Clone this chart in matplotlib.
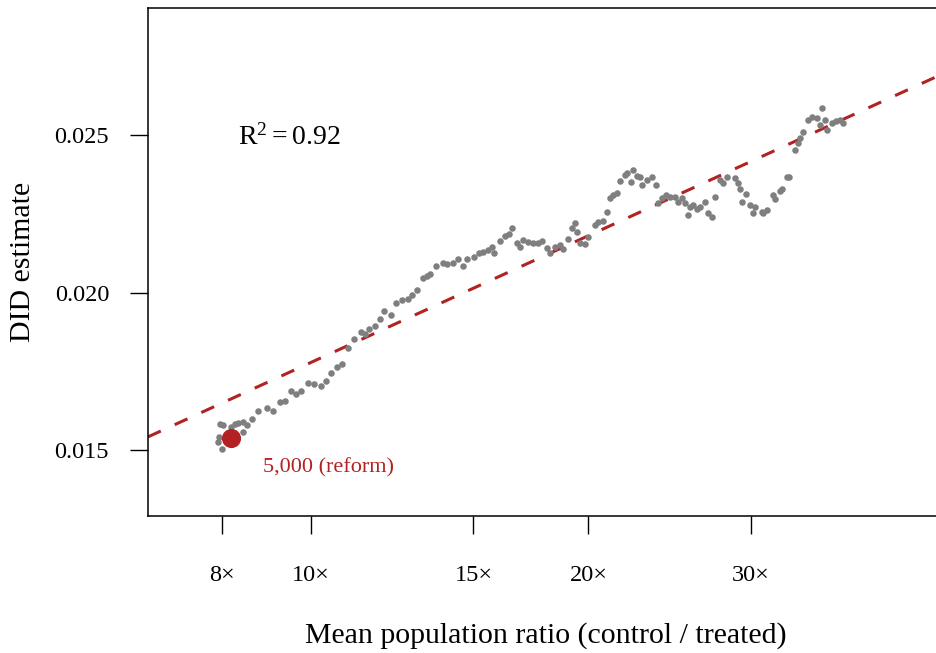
import numpy as np
import matplotlib
matplotlib.use('Agg')
import matplotlib.pyplot as plt

plt.rcParams['font.family'] = ['Liberation Serif', 'DejaVu Serif']
plt.rcParams['mathtext.fontset'] = 'custom'
plt.rcParams['mathtext.rm'] = 'Liberation Serif'
plt.rcParams['mathtext.it'] = 'Liberation Serif'

# mean population ratio (control / treated) for each cutoff
ratio = [7.92, 7.94, 7.96, 8.00, 8.02, 8.18, 8.26, 8.33, 8.43, 8.43,
         8.52, 8.62, 8.75, 8.95, 9.09, 9.25, 9.36, 9.51, 9.63, 9.75,
         9.92, 10.07, 10.25, 10.38, 10.51, 10.66, 10.80, 10.96, 11.13, 11.32,
         11.44, 11.55, 11.73, 11.87, 11.99, 12.21, 12.36, 12.55, 12.74, 12.86,
         13.03, 13.22, 13.36, 13.46, 13.66, 13.90, 14.04, 14.25, 14.43, 14.61,
         14.76, 15.02, 15.21, 15.36, 15.56, 15.71, 15.79, 16.03, 16.23, 16.39,
         16.52, 16.73, 16.85, 16.98, 17.19, 17.41, 17.63, 17.80, 18.03, 18.16,
         18.39, 18.62, 18.76, 19.00, 19.19, 19.34, 19.43, 19.58, 19.82, 19.97,
         20.33, 20.48, 20.74, 20.95, 21.10, 21.26, 21.48, 21.64, 21.91, 22.02,
         22.24, 22.35, 22.58, 22.75, 22.86, 23.15, 23.44, 23.68, 23.79, 24.03,
         24.28, 24.52, 24.83, 25.01, 25.27, 25.46, 25.65, 25.78, 25.97, 26.23,
         26.43, 26.76, 26.96, 27.23, 27.44, 27.78, 27.99, 28.28, 28.85, 29.06,
         29.21, 29.35, 29.65, 29.95, 30.17, 30.32, 30.86, 30.94, 31.25, 31.72,
         31.88, 32.28, 32.44, 32.85, 33.01, 33.51, 33.77, 33.94, 34.19, 34.62,
         34.97, 35.41, 35.68, 35.85, 36.12, 36.31, 36.76, 37.13, 37.50, 37.79]

did = [0.01525, 0.01541, 0.01583, 0.01503, 0.01579, 0.01573, 0.01583, 0.01586, 0.01589, 0.01557,
       0.01579, 0.01598, 0.01624, 0.01633, 0.01624, 0.01652, 0.01656, 0.01687, 0.01678, 0.01687,
       0.01713, 0.01710, 0.01703, 0.01719, 0.01744, 0.01763, 0.01773, 0.01824, 0.01852, 0.01875,
       0.01868, 0.01884, 0.01894, 0.01916, 0.01941, 0.01929, 0.01967, 0.01976, 0.01979, 0.01992,
       0.02008, 0.02046, 0.02052, 0.02059, 0.02084, 0.02094, 0.02090, 0.02094, 0.02106, 0.02084,
       0.02106, 0.02113, 0.02125, 0.02129, 0.02135, 0.02144, 0.02125, 0.02163, 0.02179, 0.02186,
       0.02205, 0.02157, 0.02144, 0.02167, 0.02160, 0.02157, 0.02157, 0.02163, 0.02141, 0.02125,
       0.02144, 0.02151, 0.02138, 0.02170, 0.02205, 0.02221, 0.02192, 0.02157, 0.02154, 0.02176,
       0.02214, 0.02224, 0.02227, 0.02256, 0.02300, 0.02310, 0.02316, 0.02354, 0.02373, 0.02379,
       0.02351, 0.02389, 0.02370, 0.02367, 0.02341, 0.02357, 0.02367, 0.02341, 0.02284, 0.02300,
       0.02310, 0.02303, 0.02303, 0.02287, 0.02300, 0.02284, 0.02246, 0.02271, 0.02278, 0.02265,
       0.02271, 0.02287, 0.02252, 0.02240, 0.02303, 0.02357, 0.02348, 0.02367, 0.02363, 0.02348,
       0.02329, 0.02287, 0.02313, 0.02278, 0.02252, 0.02271, 0.02256, 0.02252, 0.02262, 0.02310,
       0.02297, 0.02322, 0.02329, 0.02367, 0.02367, 0.02452, 0.02475, 0.02490, 0.02510, 0.02548,
       0.02557, 0.02554, 0.02532, 0.02586, 0.02548, 0.02516, 0.02538, 0.02544, 0.02548, 0.02538]

# the 5,000 cutoff used by the reform
reform_ratio = 8.18
reform_did = 0.01538
reform_label = '5,000 (reform)'

# log-linear fit: did = a + b * ln(ratio)
fit_a = 0.004426
fit_b = 0.005801
r2 = 0.92

xticks = [8, 10, 15, 20, 30]
xticklabels = ['8\u00d7', '10\u00d7', '15\u00d7', '20\u00d7', '30\u00d7']
yticks = [0.015, 0.020, 0.025]
yticklabels = ['0.015', '0.020', '0.025']

red = '#B22222'
W, H = 936, 653
fig = plt.figure(figsize=(W / 100, H / 100), dpi=100)
ax = fig.add_axes([148 / W, (H - 516) / H, (W - 148) / W, 508 / H])

xlim = (6.65, 47.68)
ax.set_xscale('log')
ax.set_xlim(xlim)
ax.set_ylim(0.012905, 0.029032)

# fitted line runs across the whole panel
xx = np.geomspace(xlim[0], xlim[1], 200)
ax.plot(xx, fit_a + fit_b * np.log(xx), color=red, lw=2.2, dashes=(4.6, 5.0), zorder=1)

ax.scatter(ratio, did, s=22, color='#7F7F7F', linewidths=0, zorder=2)
ax.scatter([reform_ratio], [reform_did], s=190, color=red, linewidths=0, zorder=3)
ax.text(8.86, 0.01443, reform_label, color=red, fontsize=16, ha='left', va='center')

ax.text(8.33, 0.02494, r'$\mathregular{R^2 = %.2f}$' % r2, fontsize=20, ha='left', va='center')

ax.set_xticks(xticks)
ax.set_xticklabels(xticklabels)
ax.xaxis.set_minor_locator(matplotlib.ticker.NullLocator())
ax.set_yticks(yticks)
ax.set_yticklabels(yticklabels)
ax.tick_params(axis='both', direction='out', length=13, width=1, labelsize=17.5)
ax.tick_params(axis='x', pad=22)
ax.tick_params(axis='y', pad=15)

ax.spines['right'].set_visible(False)
for s in ['left', 'top', 'bottom']:
    ax.spines[s].set_linewidth(1.1)

ax.set_xlabel('Mean population ratio (control / treated)', fontsize=21.5)
ax.set_ylabel('DID estimate', fontsize=21.5)
ax.xaxis.set_label_coords((546 - 148) / 788, -(622 - 516) / 508)
ax.yaxis.set_label_coords(-(148 - 36) / 788, 0.5)

fig.savefig('out.png', dpi=100)
